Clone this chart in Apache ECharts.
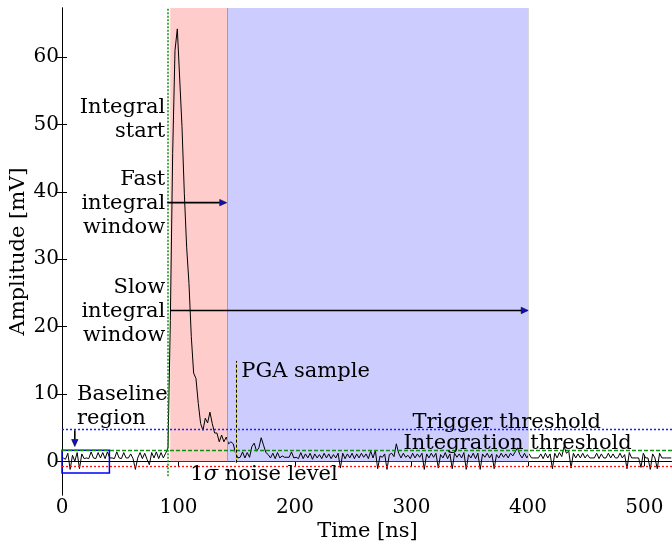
<!DOCTYPE html>
<html>
<head>
<meta charset="utf-8">
<script src="https://cdn.jsdelivr.net/npm/echarts@6/dist/echarts.min.js"></script>
<style>
  html, body { margin: 0; padding: 0; background: #ffffff; }
  #chart { width: 672px; height: 541px; }
</style>
</head>
<body>
<div id="chart"></div>
<script>
// Digitiser sampling grid (ns)
const SAMPLE_START = 1;
const SAMPLE_STEP = 2;

// Amplitude samples [mV], split into the three parts of the trace
const preTrigger = [
  0.5, 0.3, 1.2, -1.2, 0.9, 0.0, 1.3, -1.1, 1.1, 0.4,
  0.5, 0.4, 1.4, 0.5, 0.4, 1.3, 0.5, 1.3, 0.4, 1.4,
  0.5, 0.5, 0.4, 1.4, 0.5, 0.4, 1.3, 0.5, 0.5, 1.1,
  0.4, -1.2, 0.5, 1.3, 0.4, 1.2, 0.3, -0.5, 1.3, 0.5,
  1.4, 0.4, 1.3, 0.5, 1.2
];
const pulse = [
  2.0, 20.9, 45.7, 61.0, 64.2, 56.9, 49.7, 39.8, 31.8, 26.4,
  18.5, 13.1, 12.3, 8.6, 5.6, 4.6, 6.4, 5.7, 7.3, 5.6,
  4.2, 4.2, 2.9, 3.9, 2.9, 3.6, 2.6, 2.9, 2.6, 1.2,
  0.5
];
const afterPulse = [
  0.6, 1.4, 0.5, 1.3, 0.6, 2.2, 2.7, 1.5, 2.0, 3.5,
  2.4, 1.3, 1.0, 0.5, 1.2, 0.4, 1.3, 0.5, 0.8, 0.6,
  0.6, 0.6, 1.4, 0.5, 0.6, 0.4, 1.3, 0.4, 1.1, 0.5,
  1.2, 0.3, 1.1, 0.5, 1.0, 0.4, 1.2, 0.5, 1.1, 0.4,
  1.0, 0.5, 1.2, -1.0, 1.2, 0.4, 1.1, 0.5, 1.2, 0.4,
  1.1, 0.5, 1.2, 0.6, 1.1, 0.4, 1.5, 0.5, 1.6, -1.1,
  0.8, 0.6, 1.1, -1.2, 1.0, 1.2, 0.7, 2.6, 1.2, 0.5,
  1.2, 0.6, 0.9, 0.4, 1.2, 0.5, 1.1, 0.6, 1.2, -1.2,
  1.1, 0.5, 1.2, 0.6, 1.2, -1.0, 1.0, 0.5, 1.3, 0.4,
  1.1, -1.1, 1.2, 0.6, 1.1, 0.5, 1.3, -1.2, 1.0, 0.5,
  1.2, 0.4, 1.2, -1.2, 1.1, 0.6, 1.2, 0.5, 1.1, -1.1,
  1.0, 0.5, 1.2, 0.6, 1.1, 0.5, 1.2, 0.8, 1.4, 2.0,
  1.0, 0.5, 1.2, 0.5, 1.1, 0.5, 0.5, 0.5, 0.5, 1.1,
  0.4, 1.2, 0.5, 1.1, -1.1, 1.2, 0.5, 1.3, 0.7, 2.2,
  1.2, 1.5, -1.0, 1.2, 0.5, 1.1, 0.5, 1.2, 0.5, 1.0,
  0.5, 0.5, 0.5, 1.2, 0.4, 1.1, 0.5, 0.5, 1.2, 0.5,
  1.1, 0.5, 0.5, 1.2, 0.5, 1.0, -1.1, 1.3, 0.5, 0.5,
  0.5, 0.5, -0.9, 1.2, 0.5, 0.5, -1.2, 1.1, 0.5, -1.1,
  1.2, 0.5, 0.5, 0.5, 0.5, 0.5
];

// Axis ranges and tick labels
const X_RANGE = [0, 524.5];
const Y_RANGE = [-5, 67.3];
const xTicks = [0, 100, 200, 300, 400, 500];
const yTicks = [0, 10, 20, 30, 40, 50, 60];

// Analysis settings [ns] and levels [mV]
const integralStart = 90.9;
const fastWindow = [92.9, 141.6];
const slowWindow = [141.6, 400.5];
const pgaSample = 149.4;
const pgaMarkerTop = 14.9;
const baselineWindow = [0, 40.7];
const baselineBand = [-1.72, 1.63];
const triggerThreshold = 4.7;
const integrationThreshold = 1.63;
const noiseLevel = -0.74;

const FONT = "'DejaVu Serif', serif";
const amplitude = preTrigger.concat(pulse, afterPulse);
const trace = amplitude.map((v, i) => [SAMPLE_START + SAMPLE_STEP * i, v]);

const chart = echarts.init(document.getElementById('chart'), null, { renderer: 'canvas' });

function ticks(values) {
  return { show: true, inside: true, length: 5, customValues: values,
           lineStyle: { color: '#000', width: 1 } };
}
function labels(values) {
  return { show: true, customValues: values, margin: 3, inside: false,
           fontFamily: FONT, fontSize: 20, color: '#000' };
}
const axisLineStyle = { show: true, lineStyle: { color: '#000', width: 1 } };

function hLine(y, color, type) {
  return [
    { coord: [X_RANGE[0], y], lineStyle: { color, type, width: 1.3, opacity: 1 } },
    { coord: [X_RANGE[1], y] }
  ];
}
function vLine(x, y0, y1, color, type, width) {
  return [
    { coord: [x, y0], lineStyle: { color, type, width, opacity: 1 } },
    { coord: [x, y1] }
  ];
}

chart.setOption({
  animation: false,
  backgroundColor: '#ffffff',
  textStyle: { fontFamily: FONT, color: '#000' },
  grid: { left: 62, right: -1, top: 8, bottom: 46, containLabel: false, outerBoundsMode: 'none' },
  xAxis: [
    {
      type: 'value', min: X_RANGE[0], max: X_RANGE[1], position: 'bottom',
      name: 'Time [ns]', nameLocation: 'middle', nameGap: 26, nameMoveOverlap: false,
      nameTextStyle: { fontFamily: FONT, fontSize: 21, color: '#000' },
      axisLine: axisLineStyle,
      axisTick: ticks(xTicks),
      axisLabel: labels(xTicks),
      splitLine: { show: false }
    },
    {
      type: 'value', min: X_RANGE[0], max: X_RANGE[1], position: 'top',
      axisLine: axisLineStyle,
      axisTick: ticks(xTicks),
      axisLabel: { show: false },
      splitLine: { show: false }
    }
  ],
  yAxis: [
    {
      type: 'value', min: Y_RANGE[0], max: Y_RANGE[1], position: 'left',
      name: 'Amplitude [mV]', nameLocation: 'middle', nameGap: 33, nameRotate: 90,
      nameMoveOverlap: false,
      nameTextStyle: { fontFamily: FONT, fontSize: 21, color: '#000' },
      axisLine: axisLineStyle,
      axisTick: ticks(yTicks),
      axisLabel: labels(yTicks),
      splitLine: { show: false }
    },
    {
      type: 'value', min: Y_RANGE[0], max: Y_RANGE[1], position: 'right',
      axisLine: axisLineStyle,
      axisTick: ticks(yTicks),
      axisLabel: { show: false },
      splitLine: { show: false }
    }
  ],
  series: [
    {
      name: 'integration windows', type: 'line', data: [], z: 1, silent: true,
      markArea: {
        silent: true,
        data: [
          [{ xAxis: fastWindow[0], yAxis: 0, itemStyle: { color: '#ffcccc', opacity: 1 } },
           { xAxis: fastWindow[1], yAxis: Y_RANGE[1] }],
          [{ xAxis: slowWindow[0], yAxis: 0, itemStyle: { color: '#ccccff', opacity: 1 } },
           { xAxis: slowWindow[1], yAxis: Y_RANGE[1] }]
        ]
      }
    },
    {
      name: 'guides', type: 'line', data: [], z: 2, silent: true,
      markLine: {
        silent: true, symbol: ['none', 'none'], label: { show: false },
        emphasis: { disabled: true },
        data: [
          vLine(fastWindow[1], 0, Y_RANGE[1], '#a0a0a0', 'solid', 1),
          vLine(slowWindow[1], 0, Y_RANGE[1], '#d8d8d8', 'solid', 1),
          hLine(triggerThreshold, '#2020ff', [2, 2]),
          hLine(integrationThreshold, '#109010', [4, 2]),
          hLine(noiseLevel, '#ff1010', [2, 2]),
          vLine(integralStart, -2.2, Y_RANGE[1], '#109010', [2, 1.5], 1.5),
          vLine(pgaSample, -0.2, pgaMarkerTop, '#e8e800', 'solid', 1.6),
          vLine(pgaSample, -0.2, pgaMarkerTop, '#000000', [3, 2], 1)
        ]
      }
    },
    {
      name: 'baseline region', type: 'line', data: [], z: 3, silent: true,
      markArea: {
        silent: true,
        data: [
          [{ xAxis: baselineWindow[0], yAxis: baselineBand[0],
             itemStyle: { color: 'rgba(0,0,0,0)', borderColor: '#0000ff', borderWidth: 1.5 } },
           { xAxis: baselineWindow[1], yAxis: baselineBand[1] }]
        ]
      }
    },
    {
      name: 'waveform', type: 'line', data: trace, z: 4,
      showSymbol: false, symbol: 'none', silent: true,
      lineStyle: { color: '#000000', width: 1 }
    }
  ]
});

// Annotation texts and arrows, anchored in data coordinates
const notes = [
  { text: 'Integral\nstart', at: [88.6, 50.7], align: 'right' },
  { text: 'Fast\nintegral\nwindow', at: [88.6, 38.3], align: 'right' },
  { text: 'Slow\nintegral\nwindow', at: [88.6, 22.3], align: 'right' },
  { text: 'Baseline\nregion', at: [12.9, 8.2], align: 'left' },
  { text: 'PGA sample', at: [153.9, 13.3], align: 'left' },
  { text: 'Trigger threshold', at: [300.9, 5.8], align: 'left' },
  { text: 'Integration threshold', at: [293.2, 2.7], align: 'left' }
];
const arrows = [
  { from: [90.4, 38.4], to: [141.4, 38.4] },
  { from: [92.7, 22.4], to: [400.2, 22.4] },
  { from: [11, 4.6], to: [11, 2.2] }
];

function px(p) { return chart.convertToPixel({ gridIndex: 0 }, p); }

const graphics = [];
notes.forEach(n => {
  const p = px(n.at);
  graphics.push({
    type: 'text', x: p[0], y: p[1], z: 20, silent: true,
    style: {
      text: n.text, fontFamily: FONT, fontSize: 21, fill: '#000',
      align: n.align, verticalAlign: 'middle', lineHeight: 24
    }
  });
});
{
  const p = px([110.2, -2.0]);
  graphics.push({
    type: 'text', x: p[0], y: p[1], z: 20, silent: true,
    style: {
      text: '{n|1}{s|σ}{n| noise level}', align: 'left', verticalAlign: 'middle',
      rich: {
        n: { fontFamily: FONT, fontSize: 21, fill: '#000' },
        s: { fontFamily: FONT, fontSize: 21, fontStyle: 'italic', fill: '#000' }
      }
    }
  });
}
arrows.forEach(a => {
  const s = px(a.from), e = px(a.to);
  const dx = e[0] - s[0], dy = e[1] - s[1];
  const len = Math.hypot(dx, dy), ux = dx / len, uy = dy / len;
  const hl = 7, hw = 3.2;
  const bx = e[0] - ux * hl, by = e[1] - uy * hl;
  graphics.push({
    type: 'line', z: 19, silent: true,
    shape: { x1: s[0], y1: s[1], x2: bx, y2: by },
    style: { stroke: '#000', lineWidth: 1.6 }
  });
  graphics.push({
    type: 'polygon', z: 19, silent: true,
    shape: { points: [[e[0], e[1]], [bx - uy * hw, by + ux * hw], [bx + uy * hw, by - ux * hw]] },
    style: { fill: '#1010c8', stroke: '#000', lineWidth: 0.6 }
  });
});
chart.setOption({ graphic: graphics });
</script>
</body>
</html>
